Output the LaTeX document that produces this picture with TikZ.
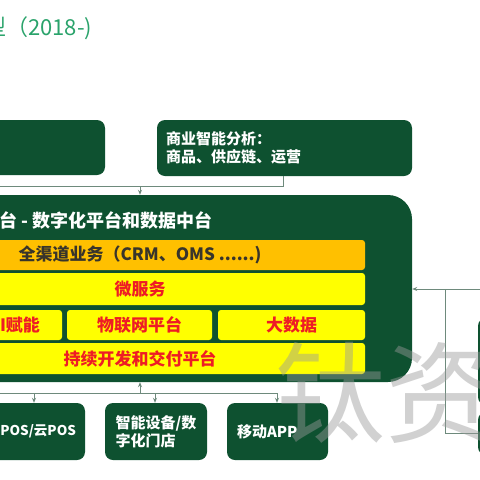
\documentclass[tikz,border=0pt]{standalone}
\usepackage{fontspec}
\setmainfont{Noto Sans CJK SC}
\usetikzlibrary{arrows.meta}
\definecolor{boxgreen}{HTML}{0E5130}
\definecolor{baryellow}{HTML}{FFFF00}
\definecolor{barorange}{HTML}{FFC000}
\definecolor{barred}{HTML}{EE1C25}
\definecolor{titlegreen}{HTML}{2AA36B}
\definecolor{wiregray}{HTML}{6E8A7C}

\begin{document}
\begin{tikzpicture}[x=1pt, y=-1pt, font=\bfseries\fontsize{17}{20}\selectfont]
        \tikzstyle{every node}=[inner sep=0pt]
        \tikzstyle{gbox}=[fill=boxgreen, text=white, rounded corners=8pt, font=\bfseries\fontsize{15}{18}\selectfont]
        \tikzstyle{bar}=[fill=baryellow, text=barred, rounded corners=3pt]
        \tikzstyle{wire}=[draw=wiregray, line width=0.9pt]
        \tikzstyle{wirearr}=[wire, -{Stealth[length=5pt, width=4pt]}]
        \fill[white] (0,0) rectangle (480,480);
        \useasboundingbox (0,0) rectangle (480,480);
        \clip (0,0) rectangle (480,480);
        % title
        \node [anchor=west, text=titlegreen, font=\fontsize{22}{24}\selectfont] (title) at (-16,28) {型（2018-)};
        % top row
        \node [gbox, minimum width=165pt, minimum height=55pt] (front) at (22.5,147.5) {};
        \node [gbox, minimum width=255pt, minimum height=56pt, text width=237pt, inner xsep=9pt, align=left] (bi) at (284.5,148) {商业智能分析：\\商品、供应链、运营};
        % platform
        \node [fill=boxgreen, rounded corners=24pt, minimum width=542pt, minimum height=187pt] (platform) at (141,288.5) {};
        \node [anchor=east, text=white, font=\bfseries\fontsize{18}{20}\selectfont] (platname) at (213,220) {中台 - 数字化平台和数据中台};
        \node [bar, fill=barorange, text=black!80!olive, minimum width=450pt, minimum height=30pt] (omni) at (140,255) {全渠道业务（CRM、OMS ......)};
        \node [bar, minimum width=450pt, minimum height=32pt] (micro) at (140,289) {微服务};
        \node [bar, minimum width=147pt, minimum height=30pt, text width=103pt, inner xsep=22pt, align=right] (ai) at (-11.5,325) {AI赋能};
        \node [bar, minimum width=145pt, minimum height=30pt] (iot) at (139.5,325) {物联网平台};
        \node [bar, minimum width=147pt, minimum height=30pt] (bigdata) at (291.5,325) {大数据};
        \node [bar, minimum width=450pt, minimum height=31pt] (devops) at (140,358.5) {持续开发和交付平台};
        % bottom row
        \node [gbox, minimum width=125pt, minimum height=57pt, text width=107pt, inner xsep=9pt, align=right, font=\bfseries\fontsize{13.5}{16}\selectfont] (pos) at (22.5,431.5) {POS/云POS};
        \node [gbox, minimum width=102pt, minimum height=57pt, align=left] (device) at (156,431.5) {智能设备/数\\字化门店};
        \node [gbox, minimum width=101pt, minimum height=57pt, text width=81pt, inner xsep=10pt, align=left] (app) at (277.5,431.5) {移动APP};
        % right side
        \node [gbox, minimum width=62pt, minimum height=87pt] (rtop) at (509,361.5) {};
        \node [gbox, minimum width=62pt, minimum height=43pt] (rbot) at (509,433.5) {};
        % connectors
        \coordinate (busN) at (140,186);
        \coordinate (busNw) at (-5,186);
        \draw [wire] (bi.south -| 283,0) |- (busNw);
        \draw [wirearr] (busN) -- (busN |- platform.north);
        \coordinate (busS) at (140,393);
        \coordinate (busSw) at (-5,393);
        \coordinate (busSe) at (277,393);
        \draw [wire] (busSw) -- (busSe);
        \draw [wirearr] (busS) -- (busS |- platform.south);
        \draw [wirearr] (34,393) -- (pos.north -| 34,0);
        \draw [wirearr] (155,393) -- (device.north -| 155,0);
        \draw [wirearr] (busSe) -- (app.north -| busSe);
        \coordinate (busE) at (490,289);
        \coordinate (busEv) at (445,289);
        \draw [wirearr] (busE) -- (busE -| platform.east);
        \draw [wire] (busEv) |- (rbot.west);
        % watermark
        \node [text=black!40, opacity=0.45, font=\mdseries\fontsize{110}{110}\selectfont] (mark) at (385,393) {钛资};
\end{tikzpicture}
\end{document}
